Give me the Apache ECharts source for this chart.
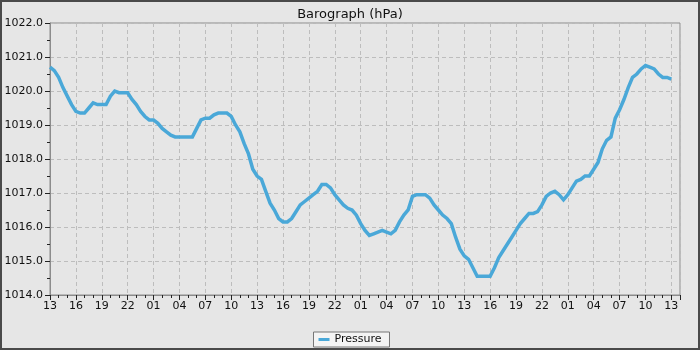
<!DOCTYPE html>
<html>
<head>
<meta charset="utf-8">
<script src="https://cdn.jsdelivr.net/npm/echarts@6/dist/echarts.min.js"></script>
<style>
html,body{margin:0;padding:0;background:#e6e6e6;}
#c{width:700px;height:350px;}
</style>
</head>
<body>
<div id="c"></div>
<script>
// Half-hourly pressure readings (hPa), starting 13:00
const startHour = 13;
const stepHours = 0.5;
const pressure = [
 1020.70,1020.60,1020.40,1020.10,1019.85,1019.60,1019.40,1019.35,1019.35,1019.50,
 1019.65,1019.60,1019.60,1019.60,1019.85,1020.00,1019.95,1019.95,1019.95,1019.75,
 1019.60,1019.40,1019.25,1019.15,1019.15,1019.05,1018.90,1018.80,1018.70,1018.65,
 1018.65,1018.65,1018.65,1018.65,1018.90,1019.15,1019.20,1019.20,1019.30,1019.35,
 1019.35,1019.35,1019.25,1019.00,1018.80,1018.45,1018.15,1017.70,1017.50,1017.40,
 1017.05,1016.70,1016.50,1016.25,1016.15,1016.15,1016.25,1016.45,1016.65,1016.75,
 1016.85,1016.95,1017.05,1017.25,1017.25,1017.15,1016.95,1016.80,1016.65,1016.55,
 1016.50,1016.35,1016.10,1015.90,1015.75,1015.80,1015.85,1015.90,1015.85,1015.80,
 1015.90,1016.15,1016.35,1016.50,1016.90,1016.95,1016.95,1016.95,1016.85,1016.65,
 1016.50,1016.35,1016.25,1016.10,1015.70,1015.35,1015.15,1015.05,1014.80,1014.55,
 1014.55,1014.55,1014.55,1014.80,1015.10,1015.30,1015.50,1015.70,1015.90,1016.10,
 1016.25,1016.40,1016.40,1016.45,1016.65,1016.90,1017.00,1017.05,1016.95,1016.80,
 1016.95,1017.15,1017.35,1017.40,1017.50,1017.50,1017.70,1017.90,1018.30,1018.55,
 1018.65,1019.20,1019.45,1019.75,1020.10,1020.40,1020.50,1020.65,1020.75,1020.70,
 1020.65,1020.50,1020.40,1020.40,1020.35
];
const seriesName = 'Pressure';
const titleText = 'Barograph (hPa)';
const yMin = 1014, yMax = 1022, yStep = 1;
const xMin = 0, xMax = 73, xStep = 3;

const points = pressure.map((v, i) => [i * stepHours, v]);

const chart = echarts.init(document.getElementById('c'), null, {renderer: 'canvas'});
const font = 'DejaVu Sans';
chart.setOption({
  backgroundColor: '#e6e6e6',
  animation: false,
  textStyle: {fontFamily: font},
  title: {
    text: titleText, left: 'center', top: 3,
    textStyle: {fontFamily: font, fontSize: 13, fontWeight: 'normal', color: '#111'}
  },
  graphic: [{
    type: 'rect', silent: true, z: 100,
    shape: {x: 1, y: 1, width: 698, height: 348},
    style: {fill: 'none', stroke: '#4a4a4a', lineWidth: 2}
  }],
  legend: {
    bottom: 3, left: 'center',
    data: [seriesName],
    backgroundColor: '#f4f4f4', borderColor: '#777', borderWidth: 1, borderRadius: 0,
    padding: [2, 8, 2, 5],
    itemWidth: 11, itemHeight: 3, icon: 'rect',
    textStyle: {fontFamily: font, fontSize: 11, color: '#111'}
  },
  grid: {
    left: 50, right: 20, top: 23, bottom: 55,
    show: true, borderColor: '#8c8c8c', borderWidth: 1, backgroundColor: 'transparent'
  },
  xAxis: {
    type: 'value', min: xMin, max: xMax, interval: xStep,
    axisLine: {show: true, lineStyle: {color: '#8c8c8c'}},
    axisTick: {show: true, length: 5, lineStyle: {color: '#222'}},
    minorTick: {show: true, splitNumber: 3, length: 3, lineStyle: {color: '#222'}},
    axisLabel: {
      color: '#111', fontSize: 11, margin: 6, fontFamily: font,
      formatter: v => String((startHour + v) % 24).padStart(2, '0'),
      showMaxLabel: false
    },
    splitLine: {show: true, lineStyle: {color: '#bdbdbd', type: [4, 3]}}
  },
  yAxis: {
    type: 'value', min: yMin, max: yMax, interval: yStep,
    axisLine: {show: true, lineStyle: {color: '#8c8c8c'}},
    axisTick: {show: true, length: 5, lineStyle: {color: '#222'}},
    minorTick: {show: true, splitNumber: 2, length: 3, lineStyle: {color: '#222'}},
    axisLabel: {color: '#111', fontSize: 11, margin: 7, fontFamily: font, formatter: v => v.toFixed(1)},
    splitLine: {show: true, lineStyle: {color: '#bdbdbd', type: [4, 3]}}
  },
  series: [{
    name: seriesName, type: 'line',
    data: points, showSymbol: false,
    lineStyle: {color: '#4aa8d8', width: 3.5, join: 'miter'},
    itemStyle: {color: '#4aa8d8'}
  }]
});
</script>
</body>
</html>
